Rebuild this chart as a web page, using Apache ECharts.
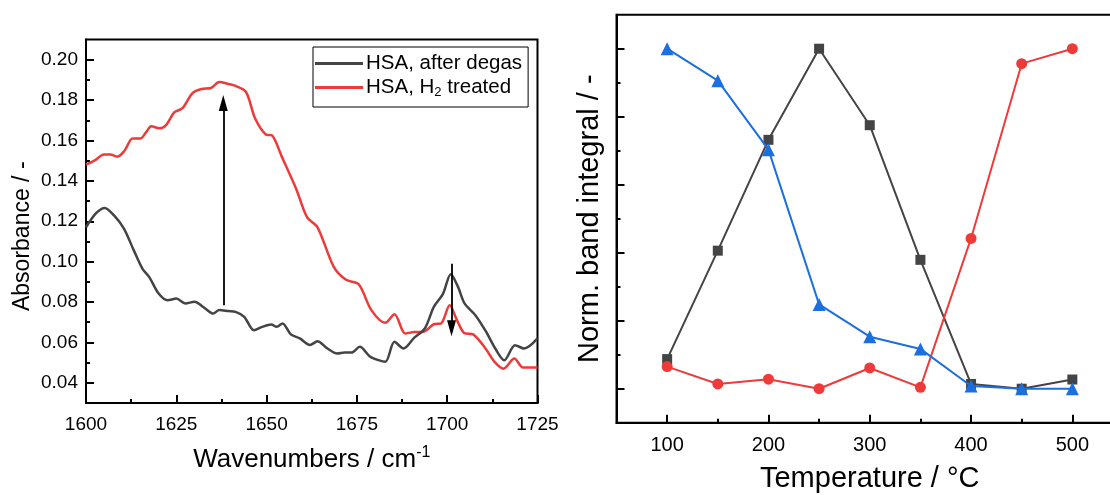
<!DOCTYPE html>
<html>
<head>
<meta charset="utf-8">
<script src="https://cdn.jsdelivr.net/npm/echarts@6/dist/echarts.min.js"></script>
<style>html,body{margin:0;padding:0;background:#fff}#c{width:1110px;height:495px}</style>
</head>
<body>
<div id="c"></div>
<script>
// ---- Left panel: IR spectra ----
const wnDegas = [1600,1602.8,1605.2,1607.7,1610.5,1613.2,1615.6,1617.6,1620.1,1622.6,1625,1627.5,1630,1633,1635.2,1636.9,1639.4,1641.4,1643.8,1646.5,1648.8,1651.3,1652.8,1654.4,1656.7,1659.2,1662,1664.1,1666.6,1669.6,1671.6,1673.5,1675.8,1678.5,1681,1682.9,1685.4,1687.9,1690.9,1693.8,1696.3,1698.8,1701,1703,1704.8,1707.8,1710.8,1713.3,1715.8,1718.8,1721.3,1725];
const absDegas = [0.117,0.124,0.1266,0.123,0.1164,0.1057,0.0966,0.0921,0.0842,0.0809,0.0817,0.0793,0.0801,0.0768,0.0743,0.076,0.0755,0.0751,0.0727,0.066,0.0677,0.0689,0.0677,0.0694,0.064,0.062,0.0587,0.0606,0.0573,0.0545,0.055,0.055,0.0578,0.0532,0.0512,0.0504,0.0603,0.057,0.0624,0.0669,0.0776,0.0839,0.0938,0.0875,0.0793,0.0735,0.0652,0.057,0.0512,0.0586,0.057,0.062];
const wnH2 = [1600,1602.3,1605,1606.7,1608.7,1610.7,1612.9,1615.1,1616.6,1618.1,1620.3,1622.1,1624.5,1626.7,1629.5,1632,1634.6,1636.9,1639.4,1641.4,1644.3,1646.8,1649.8,1651.5,1654.2,1658.2,1661.2,1664.1,1668.6,1672,1675.5,1679,1682.9,1685.4,1688.4,1690.9,1693.3,1696.3,1698.3,1700.7,1702.7,1704.7,1707.2,1710.6,1713.1,1715.6,1718.6,1721,1725];
const absH2 = [0.148,0.150,0.153,0.153,0.152,0.155,0.161,0.161,0.164,0.167,0.166,0.1675,0.174,0.176,0.1835,0.1855,0.186,0.189,0.188,0.187,0.184,0.171,0.163,0.1625,0.152,0.136,0.122,0.117,0.0974,0.091,0.0888,0.076,0.0697,0.074,0.0644,0.0652,0.0652,0.069,0.0694,0.0784,0.071,0.0647,0.064,0.057,0.0504,0.047,0.052,0.0476,0.0476];
const arrowUp = [[1638, 0.0784], [1638, 0.1785]];
const arrowDown = [[1701.2, 0.099], [1701.2, 0.067]];
const leftYMajor = [0.04,0.06,0.08,0.10,0.12,0.14,0.16,0.18,0.20];
const leftYMinor = [0.05,0.07,0.09,0.11,0.13,0.15,0.17,0.19];
const seriesNames = ['HSA, after degas', 'HSA, H2 treated'];

// ---- Right panel: band integrals ----
const temperatures = [100,150,200,250,300,350,400,450,500];
const bandSquare   = [0.087,0.406,0.732,1.0,0.775,0.379,0.014,0.0,0.027];
const bandCircle   = [0.065,0.014,0.028,0.0,0.061,0.004,0.442,0.956,1.0];
const bandTriangle = [1.0,0.906,0.703,0.248,0.153,0.117,0.008,0.0,0.0];
const rightXMajor = [100,200,300,400,500];
const rightXMinor = [150,250,350,450];
const rightYMajor = [0,0.2,0.4,0.6,0.8,1.0];
const rightYMinor = [0.1,0.3,0.5,0.7,0.9];

const FONT = 'Liberation Sans, Arial, sans-serif';
const GRAY = '#444444', RED = '#ef3a3a', BLUE = '#1c6fe0';

const zip = (a, b) => a.map((v, i) => [v, b[i]]);

function majorAxis(extra) {
  return Object.assign({
    type: 'value',
    axisLine: { show: true, onZero: false, lineStyle: { color: '#000', width: 2 } },
    axisTick: { show: true, inside: true, length: 8, lineStyle: { color: '#000', width: 2 } },
    splitLine: { show: false },
    axisLabel: { color: '#000', fontFamily: FONT }
  }, extra);
}
function minorAxis(extra) {
  return Object.assign({
    type: 'value',
    axisLine: { show: false, onZero: false },
    axisTick: { show: true, inside: true, length: 4, lineStyle: { color: '#000', width: 2 } },
    splitLine: { show: false },
    axisLabel: { show: false }
  }, extra);
}

const chart = echarts.init(document.getElementById('c'), null, { renderer: 'canvas' });
chart.setOption({
  animation: false,
  backgroundColor: '#fff',
  textStyle: { fontFamily: FONT },
  grid: [
    { left: 86, top: 39.5, right: 572.5, bottom: 92, containLabel: false, outerBoundsMode: 'none',
      show: true, borderColor: '#000', borderWidth: 2, backgroundColor: 'transparent' },
    { left: 616.5, top: 14.7, right: -13, bottom: 72.3, containLabel: false, outerBoundsMode: 'none',
      show: true, borderColor: '#000', borderWidth: 2, backgroundColor: 'transparent' }
  ],
  legend: {
    left: 313, top: 47, orient: 'vertical',
    data: seriesNames,
    icon: 'rect',
    itemWidth: 48, itemHeight: 3, itemGap: 3,
    padding: [6, 6, 8, 2],
    borderColor: '#000', borderWidth: 1,
    formatter: n => n === seriesNames[1] ? 'HSA, H{sub|2} treated' : n,
    textStyle: { fontSize: 20.5, color: '#000', fontFamily: FONT, lineHeight: 20, padding: [0,0,0,-2],
      rich: { sub: { fontSize: 13, fontFamily: FONT, color: '#000', padding: [10, 0, 0, 0] } } }
  },
  xAxis: [
    majorAxis({ gridIndex: 0, min: 1600, max: 1725, interval: 25,
      minorTick: { show: true, splitNumber: 2, length: 4, lineStyle: { color: '#000', width: 2 } },
      axisLabel: { color: '#000', fontFamily: FONT, fontSize: 19, margin: 12, formatter: v => String(v) },
      name: 'Wavenumbers / cm{sup|-1}', nameLocation: 'middle', nameGap: 42,
      nameTextStyle: { fontSize: 26, color: '#000', fontFamily: FONT,
        rich: { sup: { fontSize: 16, fontFamily: FONT, color: '#000', padding: [0, 0, 13, 0] } } } }),
    majorAxis({ gridIndex: 1, min: 50, max: 550,
      axisTick: { show: true, inside: true, length: 8, customValues: rightXMajor, lineStyle: { color: '#000', width: 2 } },
      axisLabel: { color: '#000', fontFamily: FONT, fontSize: 20, margin: 13, customValues: rightXMajor },
      name: 'Temperature / °C', nameLocation: 'middle', nameGap: 42,
      nameTextStyle: { fontSize: 29, color: '#000', fontFamily: FONT } }),
    minorAxis({ gridIndex: 1, min: 50, max: 550, position: 'bottom',
      axisTick: { show: true, inside: true, length: 4, customValues: rightXMinor, lineStyle: { color: '#000', width: 2 } } })
  ],
  yAxis: [
    majorAxis({ gridIndex: 0, min: 0.03, max: 0.21,
      axisTick: { show: true, inside: true, length: 8, customValues: leftYMajor, lineStyle: { color: '#000', width: 2 } },
      axisLabel: { color: '#000', fontFamily: FONT, fontSize: 19, margin: 8, customValues: leftYMajor, formatter: v => v.toFixed(2) },
      name: 'Absorbance / -', nameLocation: 'middle', nameGap: 52, nameRotate: 90,
      nameTextStyle: { fontSize: 23, color: '#000', fontFamily: FONT, padding: [0, 30, 0, 0] } }),
    minorAxis({ gridIndex: 0, min: 0.03, max: 0.21, position: 'left',
      axisTick: { show: true, inside: true, length: 4, customValues: leftYMinor, lineStyle: { color: '#000', width: 2 } } }),
    majorAxis({ gridIndex: 1, min: -0.1, max: 1.1,
      axisTick: { show: true, inside: true, length: 8, customValues: rightYMajor, lineStyle: { color: '#000', width: 2 } },
      axisLabel: { show: false },
      name: 'Norm. band integral / -', nameLocation: 'middle', nameGap: 12, nameRotate: 90,
      nameTextStyle: { fontSize: 29, color: '#000', fontFamily: FONT } }),
    minorAxis({ gridIndex: 1, min: -0.1, max: 1.1, position: 'left',
      axisTick: { show: true, inside: true, length: 4, customValues: rightYMinor, lineStyle: { color: '#000', width: 2 } } })
  ],
  series: [
    { name: seriesNames[0], type: 'line', xAxisIndex: 0, yAxisIndex: 0, data: zip(wnDegas, absDegas),
      symbol: 'none', smooth: 0.3, lineStyle: { color: GRAY, width: 2.5 }, itemStyle: { color: GRAY }, z: 3,
      markLine: { silent: true, symbol: ['none', 'triangle'], symbolSize: [9, 16], animation: false,
        lineStyle: { color: '#000', width: 1.8, type: 'solid' }, label: { show: false },
        itemStyle: { color: '#000' },
        data: [
          [{ coord: arrowUp[0] }, { coord: arrowUp[1] }],
          [{ coord: arrowDown[0] }, { coord: arrowDown[1] }]
        ] } },
    { name: seriesNames[1], type: 'line', xAxisIndex: 0, yAxisIndex: 0, data: zip(wnH2, absH2),
      symbol: 'none', smooth: 0.3, lineStyle: { color: RED, width: 2.5 }, itemStyle: { color: RED }, z: 2 },
    { name: 'square', type: 'line', xAxisIndex: 1, yAxisIndex: 2, data: zip(temperatures, bandSquare),
      symbol: 'rect', symbolSize: 10, lineStyle: { color: GRAY, width: 2 }, itemStyle: { color: GRAY }, z: 2 },
    { name: 'circle', type: 'line', xAxisIndex: 1, yAxisIndex: 2, data: zip(temperatures, bandCircle),
      symbol: 'circle', symbolSize: 11, lineStyle: { color: RED, width: 2 }, itemStyle: { color: RED }, z: 3 },
    { name: 'triangle', type: 'line', xAxisIndex: 1, yAxisIndex: 2, data: zip(temperatures, bandTriangle),
      symbol: 'triangle', symbolSize: 13, lineStyle: { color: BLUE, width: 2 }, itemStyle: { color: BLUE }, z: 4 }
  ]
});
</script>
</body>
</html>
